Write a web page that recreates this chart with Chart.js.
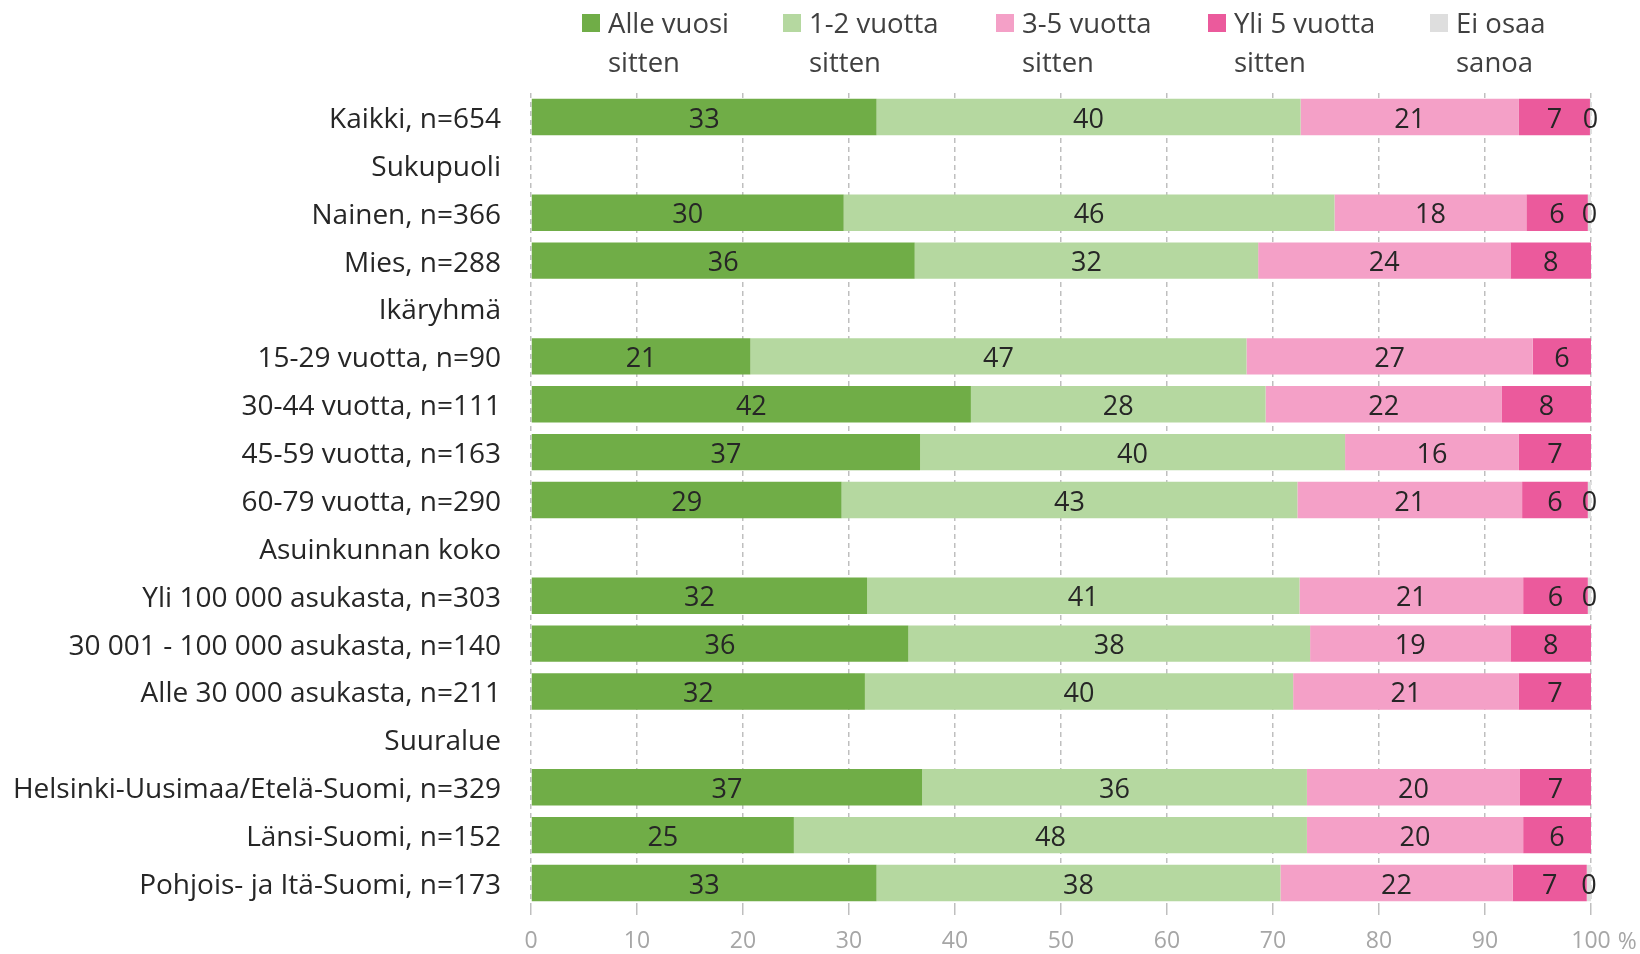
<!DOCTYPE html>
<html>
<head>
<meta charset="utf-8">
<script src="https://cdn.jsdelivr.net/npm/chart.js@4"></script>
<style>
  html, body { margin: 0; padding: 0; background: #fff; }
</style>
</head>
<body>
<canvas id="chart" width="1640" height="954"></canvas>
<script>
// categories (rows), header rows have no values
const categories = [
    "Kaikki, n=654",
    "Sukupuoli",
    "Nainen, n=366",
    "Mies, n=288",
    "Ikäryhmä",
    "15-29 vuotta, n=90",
    "30-44 vuotta, n=111",
    "45-59 vuotta, n=163",
    "60-79 vuotta, n=290",
    "Asuinkunnan koko",
    "Yli 100 000 asukasta, n=303",
    "30 001 - 100 000 asukasta, n=140",
    "Alle 30 000 asukasta, n=211",
    "Suuralue",
    "Helsinki-Uusimaa/Etelä-Suomi, n=329",
    "Länsi-Suomi, n=152",
    "Pohjois- ja Itä-Suomi, n=173"
];

const alleVuosi   = [32.6, null, 29.5, 36.2, null, 20.7, 41.5, 36.7, 29.3, null, 31.7, 35.6, 31.5, null, 36.9, 24.8, 32.6];
const vuotta12    = [40.0, null, 46.3, 32.4, null, 46.8, 27.8, 40.1, 43.0, null, 40.8, 37.9, 40.4, null, 36.3, 48.4, 38.1];
const vuotta35    = [20.6, null, 18.1, 23.8, null, 27.0, 22.3, 16.4, 21.2, null, 21.1, 18.9, 21.3, null, 20.1, 20.4, 21.9];
const yli5        = [6.7,  null, 5.8,  7.6,  null, 5.5,  8.4,  6.8,  6.2,  null, 6.1,  7.6,  6.8,  null, 6.7,  6.4,  7.0];
const eiOsaa      = [0.1,  null, 0.3,  0,    null, 0,    0,    0,    0.3,  null, 0.3,  0,    0,    null, 0,    0,    0.4];

const seriesNames = [["Alle vuosi", "sitten"], ["1-2 vuotta", "sitten"], ["3-5 vuotta", "sitten"], ["Yli 5 vuotta", "sitten"], ["Ei osaa", "sanoa"]];
const seriesColors = ["#70AD47", "#B5D8A0", "#F4A0C7", "#EB5A9C", "#DEDEDE"];
const xTicks = [0, 10, 20, 30, 40, 50, 60, 70, 80, 90, 100];

Chart.defaults.font.family = "'Open Sans', 'DejaVu Sans', sans-serif";

const allSeries = [alleVuosi, vuotta12, vuotta35, yli5, eiOsaa];

const datasets = allSeries.map((values, i) => ({
    label: seriesNames[i].join(" "),
    data: values,
    backgroundColor: seriesColors[i],
    borderWidth: 0,
    categoryPercentage: 0.76,
    barPercentage: 1
}));

// labels inside the bars
const barLabels = {
    id: "barLabels",
    afterDatasetsDraw(chart) {
        const ctx = chart.ctx;
        ctx.save();
        ctx.font = "27px 'Open Sans'";
        ctx.fillStyle = "#262626";
        ctx.textAlign = "center";
        ctx.textBaseline = "middle";
        chart.data.datasets.forEach((ds, di) => {
            const meta = chart.getDatasetMeta(di);
            meta.data.forEach((bar, i) => {
                const v = ds.data[i];
                if (v == null || v === 0) return;
                const props = bar.getProps(["x", "y", "base"], true);
                ctx.fillText(String(Math.round(v)), (props.x + props.base) / 2, props.y + 3);
            });
        });
        ctx.restore();
    }
};

// legend at top with two-line labels, plus the "%" after 100
const topLegend = {
    id: "topLegend",
    afterDraw(chart) {
        const ctx = chart.ctx;
        const boxX = [582, 783, 996, 1208, 1430];
        ctx.save();
        ctx.font = "27.5px 'Open Sans'";
        ctx.textBaseline = "middle";
        ctx.textAlign = "left";
        seriesNames.forEach((lines, i) => {
            ctx.fillStyle = seriesColors[i];
            ctx.fillRect(boxX[i], 14, 18, 18);
            ctx.fillStyle = "#404040";
            ctx.fillText(lines[0], boxX[i] + 26, 25);
            ctx.fillText(lines[1], boxX[i] + 26, 64);
        });

        const xs = chart.scales.x;
        ctx.font = "23px 'Open Sans'";
        ctx.fillStyle = "#A6A6A6";
        const w = ctx.measureText("100").width;
        ctx.fillText("%", xs.getPixelForValue(100) + w / 2 + 7, 942);
        ctx.restore();
    }
};

new Chart(document.getElementById("chart"), {
    type: "bar",
    data: { labels: categories, datasets },
    options: {
        indexAxis: "y",
        responsive: false,
        animation: false,
        layout: { padding: { top: 93, right: 49, left: 0, bottom: 0 } },
        plugins: {
            legend: { display: false },
            tooltip: { enabled: false }
        },
        scales: {
            x: {
                stacked: true,
                min: 0,
                max: 100,
                afterBuildTicks: (s) => { s.ticks = xTicks.map(v => ({ value: v })); },
                afterFit: (s) => { s.height = 47; },
                grid: { color: "#BFBFBF", lineWidth: 1.5, tickLength: 8, tickBorderDash: [] },
                border: { display: false, dash: [5, 4] },
                ticks: { color: "#A6A6A6", font: { size: 23 }, padding: 13 }
            },
            y: {
                stacked: true,
                afterFit: (s) => { s.width = 531; },
                grid: { display: false },
                border: { display: false },
                ticks: { color: "#262626", font: { size: 28 }, padding: 22, labelOffset: 3, autoSkip: false }
            }
        }
    },
    plugins: [barLabels, topLegend]
});
</script>
</body>
</html>
